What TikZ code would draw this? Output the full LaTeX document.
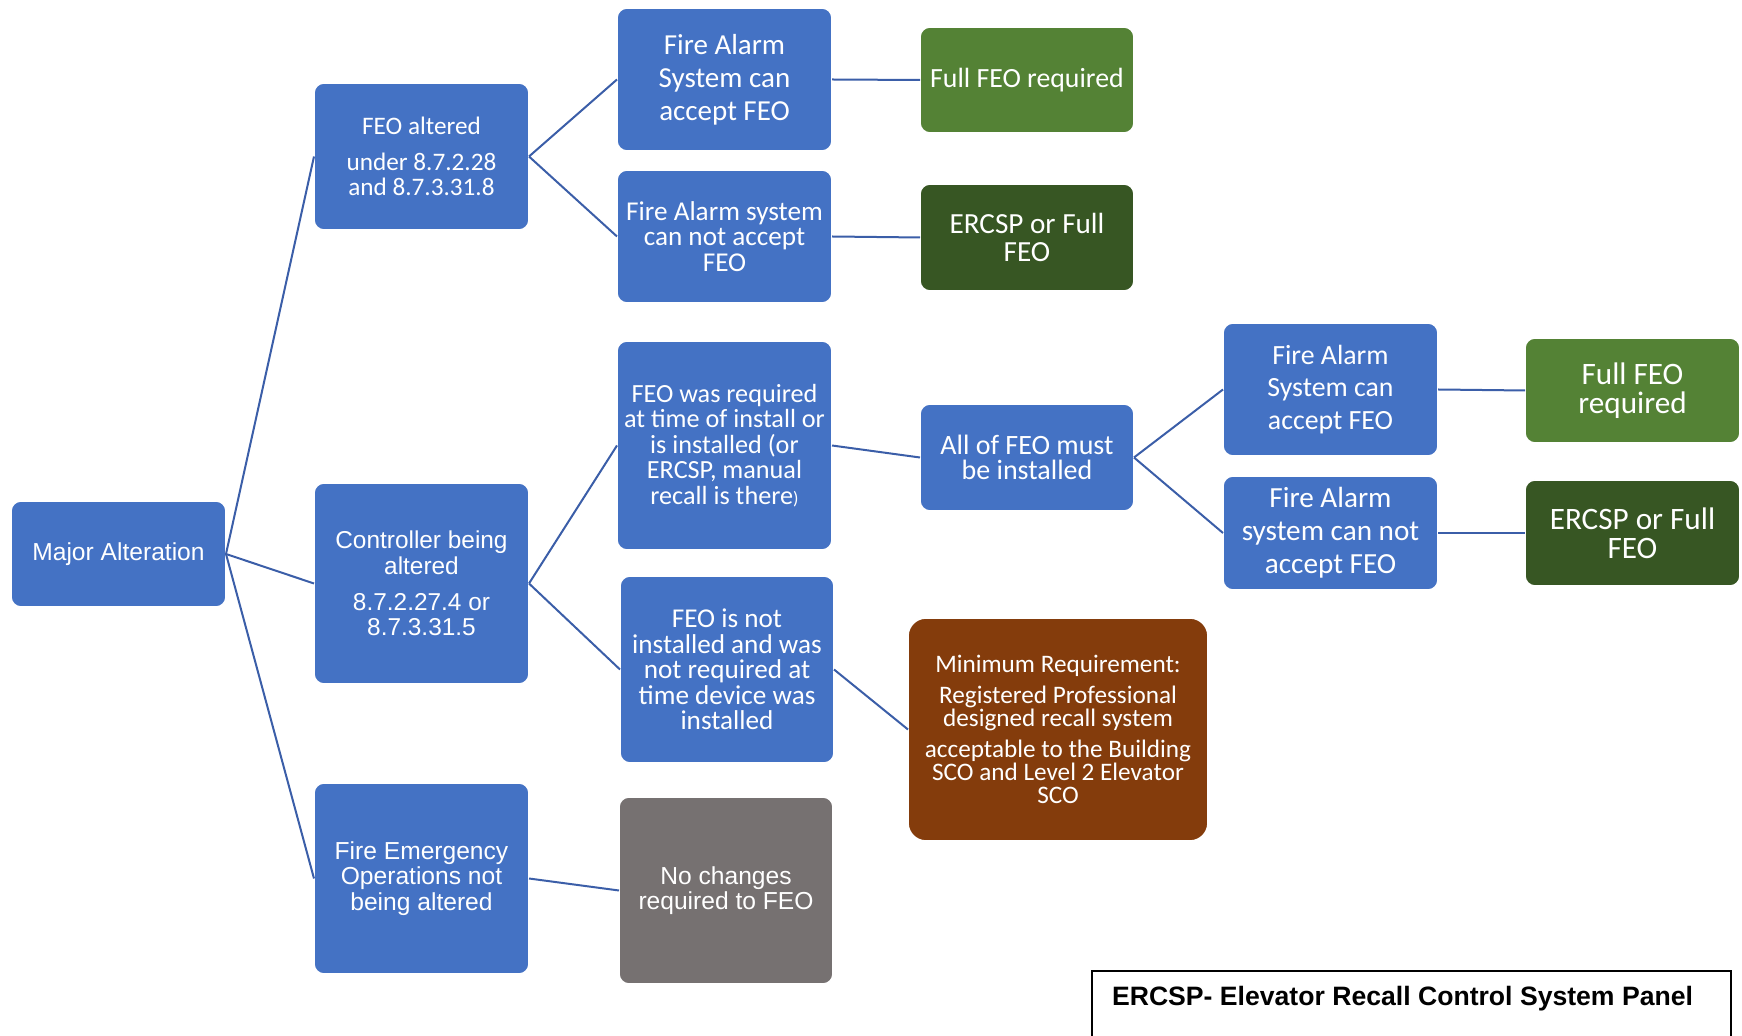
\documentclass[tikz,border=0pt]{standalone}
\usepackage{fontspec}
\setmainfont{Carlito}
\newfontfamily\arialf{Liberation Sans}
\newcommand{\fsz}[2]{\fontsize{#1}{#2}\selectfont}
\definecolor{feoblue}{RGB}{68,114,196}
\definecolor{lnk}{RGB}{59,94,168}
\definecolor{okgreen}{RGB}{84,130,53}
\definecolor{darkgreen}{RGB}{55,86,35}
\definecolor{rust}{RGB}{132,60,12}
\definecolor{stone}{RGB}{118,113,113}

\begin{document}
\begin{tikzpicture}[x=0.5pt,y=-0.5pt,
  box/.style={rounded corners=5pt, draw=white, line width=0.8pt, fill=feoblue,
    text=white, align=center, inner sep=2pt, outer sep=0pt},
  greenbox/.style={box, fill=okgreen},
  dgreenbox/.style={box, fill=darkgreen},
  rustbox/.style={box, fill=rust},
  greybox/.style={box, fill=stone},
  ar/.style={font=\arialf\fsz{#1}{12.8}}]
\useasboundingbox (0,0) rectangle (1742,1036);
\node[box, ar=12.3, minimum width=107.5pt, minimum height=53pt] (major) at (118.5,554) {Major Alteration};
\node[box, font=\fsz{12.6}{12.8}, minimum width=107.5pt, minimum height=73.5pt] (feoalt) at (421.5,156.5) {FEO altered\\[5pt] under 8.7.2.28\\ and 8.7.3.31.8};
\node[box, ar=12.2, minimum width=107.5pt, minimum height=100.5pt] (ctrl) at (421.5,583.5) {Controller being\\ altered\\[5pt] 8.7.2.27.4 or\\ 8.7.3.31.5};
\node[box, ar=12.3, minimum width=107.5pt, minimum height=95.5pt] (fireop) at (421.5,878.5) {Fire Emergency\\ Operations not\\ being altered};
\node[box, font=\fsz{14.5}{16.4}, minimum width=107.5pt, minimum height=71.5pt] (fasa) at (724.5,79.5) {Fire Alarm\\ System can\\ accept FEO};
\node[box, font=\fsz{13.6}{12.8}, minimum width=107.5pt, minimum height=66.5pt] (fasn) at (724.5,236.5) {Fire Alarm system\\ can not accept\\ FEO};
\node[box, font=\fsz{13.1}{12.8}, minimum width=107.5pt, minimum height=104.5pt] (wasreq) at (724.5,445.5) {FEO was required\\ at time of install or\\ is installed (or\\ ERCSP, manual\\ recall is there{\fsz{9}{9})}};
\node[box, font=\fsz{13.6}{12.8}, minimum width=107pt, minimum height=93.5pt] (notinst) at (727,669.5) {FEO is not\\ installed and was\\ not required at\\ time device was\\ installed};
\node[greybox, ar=12.3, minimum width=107pt, minimum height=93.5pt] (nochg) at (726,890.5) {No changes\\ required to FEO};
\node[greenbox, font=\fsz{13.9}{14}, minimum width=107pt, minimum height=53pt] (fulla) at (1027,80) {Full FEO required};
\node[dgreenbox, font=\fsz{14.6}{13.6}, minimum width=107pt, minimum height=53.5pt] (ercspa) at (1027,237.5) {ERCSP or Full\\ FEO};
\node[box, font=\fsz{14}{12.8}, minimum width=107pt, minimum height=53.5pt] (allfeo) at (1027,457.5) {All of FEO must\\ be installed};
\node[rustbox, font=\fsz{12.6}{11.4}, minimum width=150pt, minimum height=111.5pt, rounded corners=9pt] (minreq) at (1058,729.5) {Minimum Requirement:\\[4pt] Registered Professional\\ designed recall system\\[4.5pt] acceptable to the Building\\ SCO and Level 2 Elevator\\ SCO};
\node[box, font=\fsz{13.9}{16.4}, minimum width=107.5pt, minimum height=66.5pt] (fasb) at (1330.5,389.5) {Fire Alarm\\ System can\\ accept FEO};
\node[box, font=\fsz{14.6}{16.4}, minimum width=107.5pt, minimum height=57pt] (fasc) at (1330.5,533) {Fire Alarm\\ system can not\\ accept FEO};
\node[greenbox, font=\fsz{15.6}{14.6}, minimum width=107.5pt, minimum height=52.5pt] (fullb) at (1632.5,390.5) {Full FEO\\ required};
\node[dgreenbox, font=\fsz{15.6}{14.4}, minimum width=107.5pt, minimum height=53pt] (ercspb) at (1632.5,533) {ERCSP or Full\\ FEO};
\node[anchor=west, font=\arialf\bfseries\fsz{13.3}{16}] (legend) at (1105,999) {ERCSP- Elevator Recall Control System Panel};
\draw [black, line width=0.6pt] (1092,1040) |- (1731,971) -- (1731,1040);
\draw [lnk, line width=1pt] (major.east) -- (feoalt.west);
\draw [lnk, line width=1pt] (major.east) -- (ctrl.west);
\draw [lnk, line width=1pt] (major.east) -- (fireop.west);
\draw [lnk, line width=1pt] (feoalt.east) -- (fasa.west);
\draw [lnk, line width=1pt] (feoalt.east) -- (fasn.west);
\draw [lnk, line width=1pt] (fasa.east) -- (fulla.west);
\draw [lnk, line width=1pt] (fasn.east) -- (ercspa.west);
\draw [lnk, line width=1pt] (ctrl.east) -- (wasreq.west);
\draw [lnk, line width=1pt] (ctrl.east) -- (notinst.west);
\draw [lnk, line width=1pt] (wasreq.east) -- (allfeo.west);
\draw [lnk, line width=1pt] (allfeo.east) -- (fasb.west);
\draw [lnk, line width=1pt] (allfeo.east) -- (fasc.west);
\draw [lnk, line width=1pt] (fasb.east) -- (fullb.west);
\draw [lnk, line width=1pt] (fasc.east) -- (ercspb.west);
\draw [lnk, line width=1pt] (notinst.east) -- (minreq.west);
\draw [lnk, line width=1pt] (fireop.east) -- (nochg.west);
\end{tikzpicture}
\end{document}
